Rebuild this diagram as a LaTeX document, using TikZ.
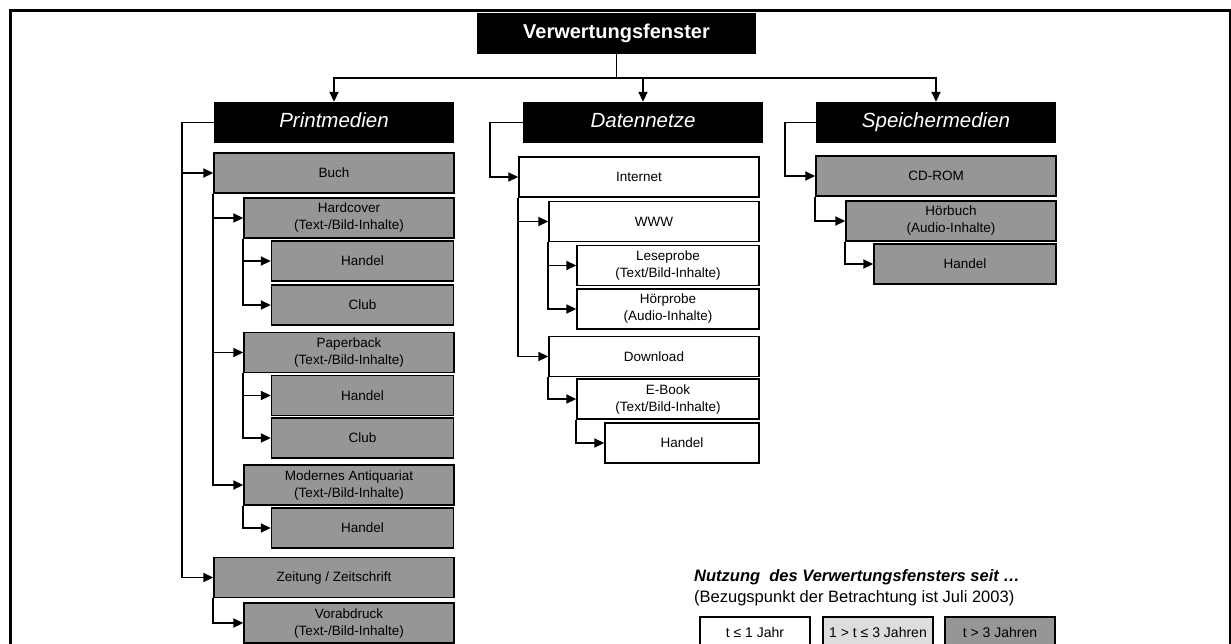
\documentclass[tikz,border=0pt]{standalone}
\usepackage{fontspec}
\setmainfont{Liberation Sans}
\usetikzlibrary{arrows.meta}
\definecolor{oldgray}{RGB}{150,150,150}
\definecolor{midgray}{RGB}{221,221,221}

\begin{document}
\begin{tikzpicture}
	[x=10pt, y=-10pt,
	rootbox/.style ={rectangle, fill=black, text=white, minimum width=279pt, minimum height=41pt, inner sep=0pt, text height=14.5pt, text depth=4pt, font=\fontsize{20}{24}\selectfont\bfseries},
	head/.style ={rectangle, fill=black, text=white, minimum width=240pt, minimum height=41pt, inner sep=0pt, text height=14.5pt, text depth=4pt, font=\fontsize{20.5}{24}\selectfont\itshape},
	box/.style ={rectangle, draw=black, line width=1.4pt, align=center, inner sep=0pt, minimum height=40pt, font=\fontsize{13.5}{17}\selectfont},
	young/.style ={box, fill=white},
	medium/.style ={box, fill=midgray},
	old/.style ={box, fill=oldgray},
	wa/.style ={minimum width=240pt},
	wb/.style ={minimum width=210pt},
	wc/.style ={minimum width=182pt},
	wd/.style ={minimum width=154pt},
	key/.style ={box, line width=1.2pt, minimum width=110pt, minimum height=30pt, font=\fontsize{14}{17}\selectfont},
	line/.style ={draw, line width=1.8pt, -{Triangle[length=10pt,width=9pt]}}]
	\useasboundingbox (0,0) rectangle (123.1,64.3);
	\draw[line width=3pt] (1.0,1.0) rectangle (123.0,70);
	% top level
	\draw (61.65, 3.35) node[rootbox] (root) {Verwertungsfenster};
	\draw (33.4, 12.25) node[head] (print) {Printmedien};
	\draw (64.3, 12.25) node[head] (daten) {Datennetze};
	\draw (93.6, 12.25) node[head] (speicher) {Speichermedien};
	\coordinate (bus) at (61.65, 7.8);
	% Printmedien
	\draw (33.4, 17.3) node[old, wa] (buch) {Buch};
	\draw (34.9, 21.8) node[old, wb] (hard) {Hardcover\\(Text-/Bild-Inhalte)};
	\draw (36.25, 26.1) node[old, wc] (hhandel) {Handel};
	\draw (36.25, 30.5) node[old, wc] (hclub) {Club};
	\draw (34.9, 35.25) node[old, wb] (paper) {Paperback\\(Text-/Bild-Inhalte)};
	\draw (36.25, 39.55) node[old, wc] (phandel) {Handel};
	\draw (36.25, 43.8) node[old, wc] (pclub) {Club};
	\draw (34.9, 48.5) node[old, wb] (antiq) {Modernes Antiquariat\\(Text-/Bild-Inhalte)};
	\draw (36.25, 52.8) node[old, wc] (ahandel) {Handel};
	\draw (33.4, 57.75) node[old, wa] (zeit) {Zeitung / Zeitschrift};
	\draw (34.9, 62.3) node[old, wb] (vorab) {Vorabdruck\\(Text-/Bild-Inhalte)};
	% Datennetze
	\draw (63.9, 17.7) node[young, wa] (inet) {Internet};
	\draw (65.4, 22.15) node[young, wb] (www) {WWW};
	\draw (66.8, 26.55) node[young, wc] (lese) {Leseprobe\\(Text/Bild-Inhalte)};
	\draw (66.8, 30.9) node[young, wc] (hoer) {Hörprobe\\(Audio-Inhalte)};
	\draw (65.4, 35.65) node[young, wb] (down) {Download};
	\draw (66.8, 39.9) node[young, wc] (ebook) {E-Book\\(Text/Bild-Inhalte)};
	\draw (68.2, 44.3) node[young, wd] (dhandel) {Handel};
	% Speichermedien
	\draw (93.6, 17.6) node[old, wa] (cd) {CD-ROM};
	\draw (95.1, 22.1) node[old, wb] (hbuch) {Hörbuch\\(Audio-Inhalte)};
	\draw (96.5, 26.4) node[old, wc] (shandel) {Handel};
	% legend
	\draw (69.4, 57.7) node[anchor=west, inner sep=0pt, font=\fontsize{16.5}{20}\selectfont\bfseries\itshape] (legtitle) {Nutzung~ des Verwertungsfensters seit …};
	\draw (69.4, 59.8) node[anchor=west, inner sep=0pt, font=\fontsize{16.5}{20}\selectfont] (legsub) {(Bezugspunkt der Betrachtung ist Juli 2003)};
	\draw (75.5, 63.2) node[key, fill=white] (k1) {t ≤ 1 Jahr};
	\draw (87.8, 63.2) node[key, fill=midgray] (k2) {1 > t ≤ 3 Jahren};
	\draw (100.0, 63.2) node[key, fill=oldgray] (k3) {t > 3 Jahren};
	% connectors
	\draw[line] (root.south) -- (bus) -| (print.north);
	\draw[line] (root.south) -- (bus) -| (daten.north);
	\draw[line] (root.south) -- (bus) -| (speicher.north);
	\draw[line] (print.west) -- ++(-3.2,0) |- (buch.west);
	\draw[line] (print.west) -- ++(-3.2,0) |- (zeit.west);
	\draw[line] (buch.south west) |- (hard.west);
	\draw[line] (buch.south west) |- (paper.west);
	\draw[line] (buch.south west) |- (antiq.west);
	\draw[line] (hard.south west) |- (hhandel.west);
	\draw[line] (hard.south west) |- (hclub.west);
	\draw[line] (paper.south west) |- (phandel.west);
	\draw[line] (paper.south west) |- (pclub.west);
	\draw[line] (antiq.south west) |- (ahandel.west);
	\draw[line] (zeit.south west) |- (vorab.west);
	\draw[line] (daten.west) -- ++(-3.3,0) |- (inet.west);
	\draw[line] (inet.south west) |- (www.west);
	\draw[line] (inet.south west) |- (down.west);
	\draw[line] (www.south west) |- (lese.west);
	\draw[line] (www.south west) |- (hoer.west);
	\draw[line] (down.south west) |- (ebook.west);
	\draw[line] (ebook.south west) |- (dhandel.west);
	\draw[line] (speicher.west) -- ++(-3.1,0) |- (cd.west);
	\draw[line] (cd.south west) |- (hbuch.west);
	\draw[line] (hbuch.south west) |- (shandel.west);
\end{tikzpicture}
\end{document}
